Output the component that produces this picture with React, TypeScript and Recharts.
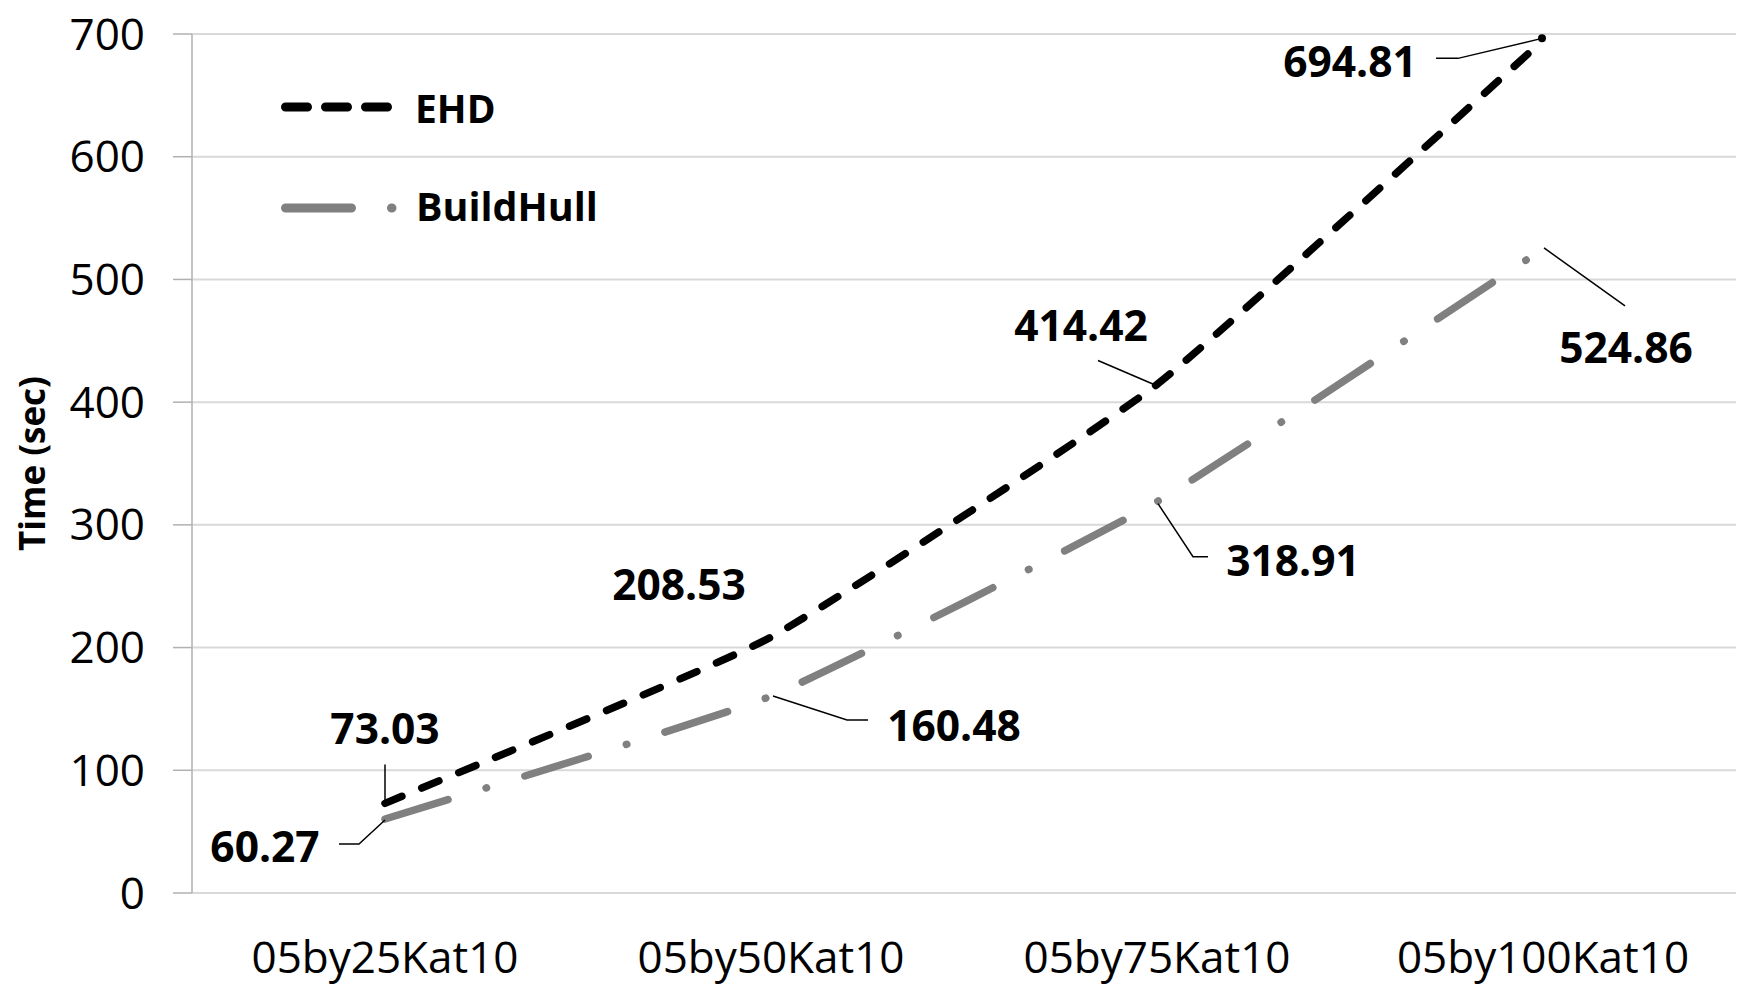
import React from 'react';
import { LineChart, Line, XAxis, YAxis, CartesianGrid, Legend, LabelList } from 'recharts';

const categories = ['05by25Kat10', '05by50Kat10', '05by75Kat10', '05by100Kat10'];
const ehdValues = [73.03, 208.53, 414.42, 694.81];
const buildHullValues = [60.27, 160.48, 318.91, 524.86];
const yTicks = [0, 100, 200, 300, 400, 500, 600, 700];

const data = categories.map((c, i) => ({ category: c, EHD: ehdValues[i], BuildHull: buildHullValues[i] }));

const FONT = '"Open Sans", sans-serif';

// Excel-like light smoothing (Catmull-Rom style Bezier with reduced tangents)
const smoothCurve = (context: any) => {
  let pts: number[][] = [];
  return {
    areaStart() {},
    areaEnd() {},
    lineStart() {
      pts = [];
    },
    point(x: number, y: number) {
      pts.push([+x, +y]);
    },
    lineEnd() {
      const n = pts.length;
      if (!n) return;
      context.moveTo(pts[0][0], pts[0][1]);
      const t = 1 / 14;
      for (let i = 0; i < n - 1; i++) {
        const p0 = pts[Math.max(i - 1, 0)];
        const p1 = pts[i];
        const p2 = pts[i + 1];
        const p3 = pts[Math.min(i + 2, n - 1)];
        context.bezierCurveTo(
          p1[0] + (p2[0] - p0[0]) * t,
          p1[1] + (p2[1] - p0[1]) * t,
          p2[0] - (p3[0] - p1[0]) * t,
          p2[1] - (p3[1] - p1[1]) * t,
          p2[0],
          p2[1]
        );
      }
    },
  };
};

// label placement (pixel offsets from the data point) and leader lines
type Lay = { dx: number; dy: number; leader: number[][] | null; dot?: boolean };
const ehdLabelLayout: Lay[] = [
  { dx: 0, dy: -76, leader: [[0, -39], [0, -3]] },
  { dx: -92, dy: -54, leader: null },
  { dx: -76, dy: -60, leader: [[-59, -24], [-3, 0]] },
  { dx: -193, dy: 20, leader: [[-107, 18], [-85, 18], [-1, -2]], dot: true },
];
const hullLabelLayout: Lay[] = [
  { dx: -120, dy: 26, leader: [[-46, 25], [-26, 25], [0, 1]] },
  { dx: 183, dy: 28, leader: [[2, 0], [76, 24], [97, 24]] },
  { dx: 136, dy: 58, leader: [[1, 2], [36, 55], [51, 55]] },
  { dx: 83, dy: 98, leader: [[1, -1], [82, 57]] },
];

const makeLabel = (layout: Lay[]) => (props: any) => {
  const idx = props.index;
  const x = props.x ?? props.viewBox?.x;
  const y = props.y ?? props.viewBox?.y;
  const lay = layout[idx];
  if (!lay || x == null || y == null) return null;
  const pts = lay.leader ? lay.leader.map((p) => `${x + p[0]},${y + p[1]}`).join(' ') : null;
  return (
    <g>
      {pts && <polyline points={pts} fill="none" stroke="#000" strokeWidth={1.5} />}
      {lay.dot && <circle cx={x - 1} cy={y - 2} r={4} fill="#000" />}
      <text
        x={x + lay.dx}
        y={y + lay.dy}
        textAnchor="middle"
        dominantBaseline="central"
        fontFamily={FONT}
        fontWeight={700}
        fontSize={42.5}
        fill="#000"
      >
        {props.value}
      </text>
    </g>
  );
};

const LegendContent = () => (
  <svg width={700} height={260} style={{ display: 'block' }}>
    <line x1={285.5} y1={107} x2={388} y2={107} stroke="#000" strokeWidth={9} strokeLinecap="round" strokeDasharray="22 18" />
    <text x={415} y={107} dominantBaseline="central" fontFamily={FONT} fontWeight={700} fontSize={39} fill="#000">EHD</text>
    <line x1={285.5} y1={208} x2={392} y2={208} stroke="#808080" strokeWidth={9} strokeLinecap="round" strokeDasharray="66 40 0.5 40" />
    <text x={416} y={206} dominantBaseline="central" fontFamily={FONT} fontWeight={700} fontSize={39.5} fill="#000">BuildHull</text>
  </svg>
);

export default function App() {
  return (
    <div style={{ position: 'absolute', left: 0, top: 0, width: 1754, height: 1000, background: '#fff' }}>
      <LineChart width={1754} height={1000} data={data} margin={{ top: 34, right: 18, left: 0, bottom: 0 }}>
        <CartesianGrid horizontal vertical={false} stroke="#d9d9d9" strokeWidth={2} />
        <XAxis
          dataKey="category"
          height={107}
          padding={{ left: 193, right: 193 }}
          tickLine={false}
          axisLine={{ stroke: '#d9d9d9', strokeWidth: 2 }}
          tickMargin={43}
          tick={{ fontSize: 44, fill: '#000', fontFamily: FONT }}
          interval={0}
        />
        <YAxis
          width={192}
          domain={[0, 700]}
          ticks={yTicks}
          tickSize={19}
          tickMargin={28}
          tickLine={{ stroke: '#b0b0b0', strokeWidth: 1.5 }}
          axisLine={{ stroke: '#b0b0b0', strokeWidth: 1.5 }}
          tick={{ fontSize: 44, fill: '#000', fontFamily: FONT }}
          label={{
            content: (p: any) => {
              const vb = p.viewBox || { y: 34, height: 859 };
              const cy = vb.y + vb.height / 2;
              return (
                <text
                  transform={`translate(31,${cy}) rotate(-90)`}
                  textAnchor="middle"
                  dominantBaseline="central"
                  fontFamily={FONT}
                  fontWeight={700}
                  fontSize={35}
                  fill="#000"
                >
                  Time (sec)
                </text>
              );
            },
          }}
        />
        <Legend
          layout="horizontal"
          verticalAlign="middle"
          align="center"
          content={() => <LegendContent />}
          wrapperStyle={{ position: 'absolute', left: 0, top: 0, width: 700, height: 260 }}
        />
        <Line
          type={smoothCurve as any}
          dataKey="EHD"
          stroke="#000"
          strokeWidth={7.5}
          strokeLinecap="round"
          strokeDasharray="18.5 21.5"
          dot={false}
          activeDot={false}
          isAnimationActive={false}
        >
          <LabelList dataKey="EHD" content={makeLabel(ehdLabelLayout)} />
        </Line>
        <Line
          type={smoothCurve as any}
          dataKey="BuildHull"
          stroke="#808080"
          strokeWidth={7.5}
          strokeLinecap="round"
          strokeDasharray="66 40 0.5 40"
          dot={false}
          activeDot={false}
          isAnimationActive={false}
        >
          <LabelList dataKey="BuildHull" content={makeLabel(hullLabelLayout)} />
        </Line>
      </LineChart>
    </div>
  );
}
